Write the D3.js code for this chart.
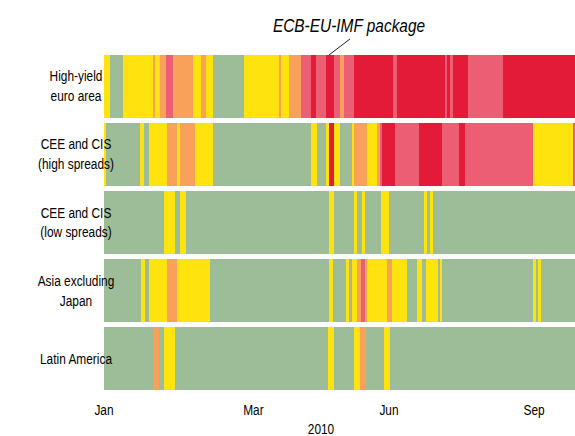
<!DOCTYPE html>
<html><head><meta charset="utf-8">
<script src="https://cdn.jsdelivr.net/npm/d3@7"></script>
<style>
html,body{margin:0;padding:0;background:#fff;}
svg text{font-family:"Liberation Sans","Arial",sans-serif;fill:#000;}
</style></head>
<body>
<svg id="chart" width="575" height="436"></svg>
<script>
// Regions (rows)
const regions = [
  ["High-yield", "euro area"],
  ["CEE and CIS", "(high spreads)"],
  ["CEE and CIS", "(low spreads)"],
  ["Asia excluding", "Japan"],
  ["Latin America"]
];
// Stress levels: 0 = low (green) ... 4 = highest (red)
const levelColors = ["#9cbd97", "#ffe30f", "#f9a05a", "#ec5e73", "#e31b38"];
// Day index (days since 1 Jan 2010) at which each level starts; runs until the next start
const highYieldEuro = [[0,1],[3.5,0],[11.0,1],[28.4,2],[29.6,1],[32.5,2],[35.9,3],[40.0,2],[51.6,1],[56.2,2],[59.1,1],[63.2,0],[81.1,1],[101.4,2],[102.6,1],[107.2,2],[114.2,3],[120.0,4],[122.9,3],[128.7,4],[133.3,3],[136.8,2],[139.1,3],[144.9,4],[167.5,3],[169.8,4],[197.6,3],[198.8,4],[200.5,3],[202.3,4],[211.0,3],[231.3,4]];
const ceeHigh = [[0,1],[1.2,0],[20.9,1],[23.2,0],[26.1,1],[36.5,2],[42.3,1],[44.0,2],[52.7,1],[63.2,0],[120.0,1],[123.5,0],[128.7,1],[130.4,4],[133.3,1],[136.8,0],[143.7,1],[144.9,2],[152.4,1],[158.2,2],[160.0,3],[161.1,4],[168.7,3],[182.6,4],[195.9,3],[205.8,4],[209.2,3],[248.6,1],[271.8,3]];
const ceeLow = [[0,0],[34.8,1],[41.2,0],[44.0,1],[47.5,0],[130.4,1],[133.3,0],[144.9,1],[146.6,0],[149.5,1],[151.3,0],[160.5,1],[165.2,0],[185.5,1],[187.2,0],[188.9,1],[190.7,0]];
const asiaExJapan = [[0,0],[21.4,1],[23.8,0],[26.1,1],[36.5,2],[42.3,1],[61.4,0],[130.4,1],[132.7,0],[140.3,1],[142.0,0],[143.7,1],[146.6,2],[149.0,3],[151.3,2],[152.4,1],[164.0,2],[166.9,1],[175.6,0],[181.4,1],[184.3,0],[186.6,1],[193.6,0],[194.7,1],[195.9,0],[248.6,1],[250.4,0],[251.5,1],[253.3,0]];
const latinAmerica = [[0,0],[28.4,2],[31.9,0],[34.8,1],[41.2,0],[129.8,1],[133.3,0],[144.9,1],[148.4,2],[151.9,0],[162.3,1],[165.8,0]];
const series = [highYieldEuro, ceeHigh, ceeLow, asiaExJapan, latinAmerica];
const dayEnd = 273;
// Tick labels and their day positions
const tickLabels = ["Jan", "Mar", "Jun", "Sep"];
const tickDays = [0, 86.6, 165.2, 249.3];
const yearLabel = "2010";
const annotationText = "ECB-EU-IMF package";
const annotationDay = 130.4;

const svg = d3.select("#chart");
const x = d3.scaleLinear().domain([0, dayEnd]).range([104, 575]);
const y = d3.scaleBand().domain(d3.range(regions.length)).range([55, 390]).paddingInner(0.08);
const SX = 0.82; // condensed look

series.forEach((s, i) => {
  const segs = s.map((d, k) => ({start: d[0], end: k < s.length - 1 ? s[k+1][0] : dayEnd, level: d[1]}));
  const g = svg.append("g");
  g.selectAll("rect").data(segs).join("rect")
    .attr("x", d => x(d.start))
    .attr("width", d => x(d.end) - x(d.start) + 0.3)
    .attr("y", y(i))
    .attr("height", y.bandwidth())
    .attr("fill", d => levelColors[d.level])
    .attr("shape-rendering", "crispEdges");
});

function condensedText(cx, cy, size) {
  return svg.append("g").attr("transform", `translate(${cx},${cy}) scale(${SX},1)`)
    .append("text").attr("text-anchor", "middle").attr("font-size", size);
}

// Row labels
regions.forEach((lines, i) => {
  const cy = y(i) + y.bandwidth() / 2;
  const t = condensedText(76, cy, 14.5);
  lines.forEach((ln, k) => {
    t.append("tspan").attr("x", 0)
      .attr("y", 5 + (k - (lines.length - 1) / 2) * 20)
      .text(ln);
  });
});

// X axis labels
tickLabels.forEach((d, i) => {
  condensedText(x(tickDays[i]), 415, 14.5).text(d);
});
condensedText(321, 434, 14.5).text(yearLabel);

// Annotation
const ax = x(annotationDay);
svg.append("line").attr("x1", ax).attr("y1", y(0)).attr("x2", ax + 21).attr("y2", y(0) - 16)
  .attr("stroke", "#222").attr("stroke-width", 1);
condensedText(ax + 20, 32, 18.8).attr("font-style", "italic").text(annotationText);
</script>
</body></html>
